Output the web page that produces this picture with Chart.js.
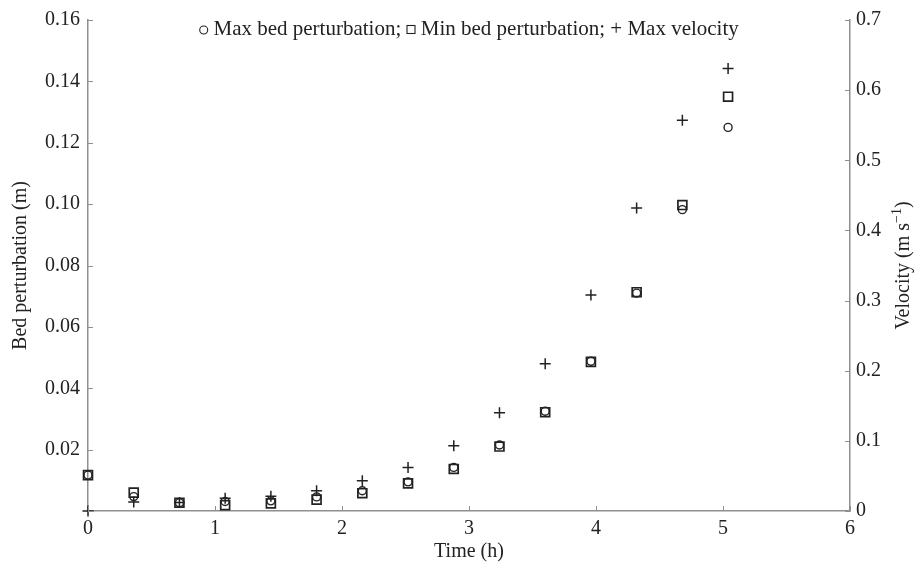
<!DOCTYPE html>
<html>
<head>
<meta charset="utf-8">
<title>Bed perturbation and velocity</title>
<script src="https://cdn.jsdelivr.net/npm/chart.js@4.4.1/dist/chart.umd.min.js"></script>
<style>
  html, body { margin: 0; padding: 0; background: #fff; }
  #wrap { width: 914px; height: 566px; }
</style>
</head>
<body>
<div id="wrap"><canvas id="bedChart" width="914" height="566"></canvas></div>
<script>
// sampling times (h)
var hours = [0, 0.36, 0.72, 1.08, 1.44, 1.8, 2.16, 2.52, 2.88, 3.24, 3.6, 3.96, 4.32, 4.68, 5.04];
// bed perturbation (m)
var maxBed = [0.0117, 0.0047, 0.0027, 0.0031, 0.0033, 0.0046, 0.0066, 0.0095, 0.0142, 0.0215, 0.0325, 0.0488, 0.0710, 0.0982, 0.1250];
var minBed = [0.0117, 0.0060, 0.0027, 0.0019, 0.0025, 0.0037, 0.0058, 0.0090, 0.0137, 0.0210, 0.0322, 0.0486, 0.0713, 0.0997, 0.1350];
// velocity (m/s)
var maxVel = [0, 0.013, 0.012, 0.018, 0.021, 0.029, 0.043, 0.062, 0.093, 0.140, 0.210, 0.308, 0.432, 0.557, 0.631];

var bedTicks = [0, 0.02, 0.04, 0.06, 0.08, 0.10, 0.12, 0.14, 0.16];
var velTicks = [0, 0.1, 0.2, 0.3, 0.4, 0.5, 0.6, 0.7];
var hourTicks = [0, 1, 2, 3, 4, 5, 6];

var serif = "'Liberation Serif', 'Times New Roman', serif";
var ink = '#222';
var axisGrey = '#8f8f8f';

function pts(ys) {
  return hours.map(function (h, i) { return { x: h, y: ys[i] }; });
}

// short tick marks pointing into the plot, MATLAB style
var innerTicks = {
  id: 'innerTicks',
  afterDatasetsDraw: function (chart) {
    var ctx = chart.ctx, a = chart.chartArea, len = 5;
    ctx.save();
    ctx.strokeStyle = axisGrey;
    ctx.lineWidth = 1;
    hourTicks.forEach(function (v) {
      var x = Math.round(chart.scales.x.getPixelForValue(v)) + 0.5;
      ctx.beginPath(); ctx.moveTo(x, a.bottom); ctx.lineTo(x, a.bottom - len); ctx.stroke();
    });
    bedTicks.forEach(function (v) {
      var y = Math.round(chart.scales.y.getPixelForValue(v)) + 0.5;
      ctx.beginPath(); ctx.moveTo(a.left, y); ctx.lineTo(a.left + len, y); ctx.stroke();
    });
    velTicks.forEach(function (v) {
      var y = Math.round(chart.scales.y1.getPixelForValue(v)) + 0.5;
      ctx.beginPath(); ctx.moveTo(a.right, y); ctx.lineTo(a.right - len, y); ctx.stroke();
    });
    ctx.restore();
  }
};

// inline key at the top of the plot and the right-hand axis title
var annotations = {
  id: 'annotations',
  afterDraw: function (chart) {
    var ctx = chart.ctx, a = chart.chartArea;
    ctx.save();
    ctx.font = '21px ' + serif;
    ctx.fillStyle = ink;
    ctx.strokeStyle = ink;
    ctx.textBaseline = 'middle';
    ctx.textAlign = 'left';

    var parts = [
      { mark: 'circle' }, { text: ' Max bed perturbation; ' },
      { mark: 'rect' }, { text: ' Min bed perturbation; + Max velocity' }
    ];
    var markW = 9;
    var total = 0;
    parts.forEach(function (p) { total += p.mark ? markW : ctx.measureText(p.text).width; });
    var x = (a.left + a.right) / 2 - total / 2;
    var y = 29;
    ctx.lineWidth = 1.1;
    parts.forEach(function (p) {
      if (p.mark === 'circle') {
        ctx.beginPath(); ctx.arc(x + markW / 2, y + 1, 4, 0, Math.PI * 2); ctx.stroke();
        x += markW;
      } else if (p.mark === 'rect') {
        ctx.strokeRect(x + 0.5, y - 3.5, 8, 8);
        x += markW;
      } else {
        ctx.fillText(p.text, x, y);
        x += ctx.measureText(p.text).width;
      }
    });

    // Velocity (m s^-1), reading bottom to top
    var main = 'Velocity (m s', sup = '\u22121', close = ')';
    ctx.font = '20px ' + serif;
    var w1 = ctx.measureText(main).width, w3 = ctx.measureText(close).width;
    ctx.font = '14px ' + serif;
    var w2 = ctx.measureText(sup).width;
    var len = w1 + w2 + w3;
    ctx.translate(904, (a.top + a.bottom) / 2);
    ctx.rotate(-Math.PI / 2);
    var sx = -len / 2;
    ctx.font = '20px ' + serif;
    ctx.fillText(main, sx, 0);
    ctx.font = '14px ' + serif;
    ctx.fillText(sup, sx + w1, -7);
    ctx.font = '20px ' + serif;
    ctx.fillText(close, sx + w1 + w2, 0);
    ctx.restore();
  }
};

var ctx = document.getElementById('bedChart');
var chart = new Chart(ctx, {
  type: 'scatter',
  data: {
    datasets: [
      {
        label: 'Max bed perturbation',
        data: pts(maxBed),
        yAxisID: 'y',
        pointStyle: 'circle',
        pointRadius: 4,
        borderColor: ink,
        backgroundColor: 'rgba(0,0,0,0)',
        borderWidth: 1.4,
        clip: false
      },
      {
        label: 'Min bed perturbation',
        data: pts(minBed),
        yAxisID: 'y',
        pointStyle: 'rect',
        pointRadius: 6.3,
        borderColor: ink,
        backgroundColor: 'rgba(0,0,0,0)',
        borderWidth: 1.7,
        clip: false
      },
      {
        label: 'Max velocity',
        data: pts(maxVel),
        yAxisID: 'y1',
        pointStyle: 'cross',
        pointRadius: 5.5,
        borderColor: ink,
        borderWidth: 1.5,
        clip: false
      }
    ]
  },
  options: {
    responsive: false,
    animation: false,
    devicePixelRatio: 1,
    layout: { padding: { top: 17, left: 0, right: 0, bottom: 0 } },
    plugins: {
      legend: { display: false },
      tooltip: { enabled: false }
    },
    scales: {
      x: {
        type: 'linear',
        position: 'bottom',
        min: 0,
        max: 6,
        afterBuildTicks: function (s) { s.ticks = hourTicks.map(function (v) { return { value: v }; }); },
        ticks: { color: ink, font: { family: serif, size: 20 }, padding: 6, maxRotation: 0 },
        grid: { display: false, drawTicks: false },
        border: { display: true, color: axisGrey, width: 1.5 },
        title: { display: true, text: 'Time (h)', color: ink, font: { family: serif, size: 20 }, padding: { top: 0, bottom: 2 } },
        afterFit: function (s) { s.height = 55; }
      },
      y: {
        type: 'linear',
        position: 'left',
        min: 0,
        max: 0.16,
        afterBuildTicks: function (s) { s.ticks = bedTicks.map(function (v) { return { value: v }; }); },
        ticks: {
          color: ink,
          font: { family: serif, size: 20 },
          padding: 8,
          callback: function (v) { return v === 0 ? '' : v.toFixed(2); }
        },
        grid: { display: false, drawTicks: false },
        border: { display: true, color: axisGrey, width: 1.5 },
        title: { display: true, text: 'Bed perturbation (m)', color: ink, font: { family: serif, size: 20 }, padding: { top: 9, bottom: 0 } },
        afterFit: function (s) { s.width = 88; }
      },
      y1: {
        type: 'linear',
        position: 'right',
        min: 0,
        max: 0.7,
        afterBuildTicks: function (s) { s.ticks = velTicks.map(function (v) { return { value: v }; }); },
        ticks: {
          color: ink,
          font: { family: serif, size: 20 },
          padding: 6,
          callback: function (v) { return v === 0 ? '0' : v.toFixed(1); }
        },
        grid: { display: false, drawTicks: false },
        border: { display: true, color: axisGrey, width: 1.5 },
        afterFit: function (s) { s.width = 64; }
      }
    }
  },
  plugins: [innerTicks, annotations]
});
</script>
</body>
</html>
